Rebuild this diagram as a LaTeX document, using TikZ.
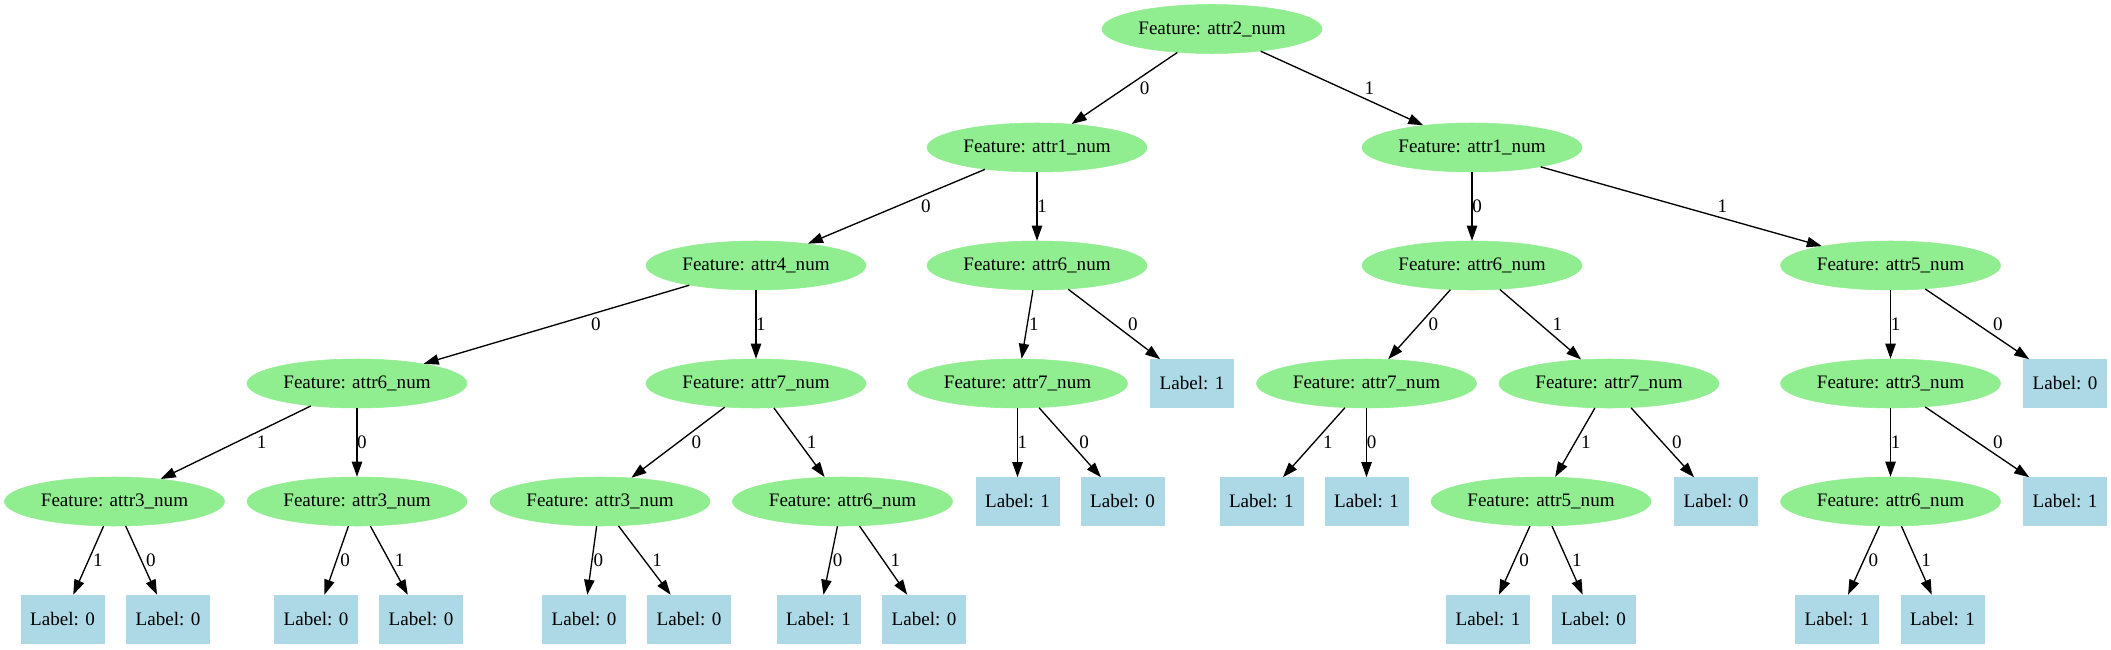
\documentclass[tikz,border=0pt]{standalone}
\usepackage{fontspec}
\setmainfont{Liberation Serif}
\usetikzlibrary{shapes.geometric,arrows.meta,calc}
\definecolor{featgreen}{HTML}{90EE90}
\definecolor{leafblue}{HTML}{ADD8E6}
\newcommand{\tedge}[3]{%
  \draw[treeedge] (#1) -- (#2);
  \path let \p1=(#1), \p2=(#2), \n1={3.75pt+7.65pt*abs(\x2-\x1)/abs(\y2-\y1)} in
    node[elab, xshift=\n1] at ($(#1)!0.5!(#2)$) {#3};
}
\begin{document}
\begin{tikzpicture}[x=0.75pt,y=-0.75pt,
  every node/.style={font=\fontsize{14.3pt}{17pt}\selectfont},
  feat/.style={ellipse, fill=featgreen, draw=featgreen, minimum width=165pt, minimum height=36.75pt, inner sep=0pt},
  leaf/.style={rectangle, fill=leafblue, draw=leafblue, minimum width=62.25pt, minimum height=36pt, inner sep=0pt},
  treeedge/.style={line width=1pt, -{Triangle[length=11.25pt, width=7.75pt]}},
  elab/.style={inner sep=0pt, anchor=center}]
\fill[white] (0,0) rectangle (2111,649);
\useasboundingbox (0,0) rectangle (2111,649);
% level 0
\node[feat] (root) at (1212,29) {Feature: attr2\_num};
% level 1
\node[feat] (A) at (1037,147.5) {Feature: attr1\_num};
\node[feat] (B) at (1472,147.5) {Feature: attr1\_num};
% level 2
\node[feat] (A0) at (756,265.5) {Feature: attr4\_num};
\node[feat] (A1) at (1037,265.5) {Feature: attr6\_num};
\node[feat] (B0) at (1472,265.5) {Feature: attr6\_num};
\node[feat] (B1) at (1890.5,265.5) {Feature: attr5\_num};
% level 3
\node[feat] (A00) at (357,383.5) {Feature: attr6\_num};
\node[feat] (A01) at (756,383.5) {Feature: attr7\_num};
\node[feat] (A10) at (1017.5,383.5) {Feature: attr7\_num};
\node[leaf] (A11) at (1192,383.5) {Label: 1};
\node[feat] (B00) at (1366.5,383.5) {Feature: attr7\_num};
\node[feat] (B01) at (1609,383.5) {Feature: attr7\_num};
\node[feat] (B10) at (1890.5,383.5) {Feature: attr3\_num};
\node[leaf] (B11) at (2065,383.5) {Label: 0};
% level 4
\node[feat] (A000) at (114.5,501.5) {Feature: attr3\_num};
\node[feat] (A001) at (357,501.5) {Feature: attr3\_num};
\node[feat] (A010) at (600,501.5) {Feature: attr3\_num};
\node[feat] (A011) at (842.5,501.5) {Feature: attr6\_num};
\node[leaf] (A100) at (1017.5,501.5) {Label: 1};
\node[leaf] (A101) at (1122.5,501.5) {Label: 0};
\node[leaf] (B000) at (1261.3,501.5) {Label: 1};
\node[leaf] (B001) at (1366.5,501.5) {Label: 1};
\node[feat] (B010) at (1541,501.5) {Feature: attr5\_num};
\node[leaf] (B011) at (1716,501.5) {Label: 0};
\node[feat] (B100) at (1890.5,501.5) {Feature: attr6\_num};
\node[leaf] (B101) at (2065,501.5) {Label: 1};
% level 5
\node[leaf] (a1) at (62.5,619) {Label: 0};
\node[leaf] (a2) at (168,619) {Label: 0};
\node[leaf] (a3) at (316,619) {Label: 0};
\node[leaf] (a4) at (421,619) {Label: 0};
\node[leaf] (a5) at (584,619) {Label: 0};
\node[leaf] (a6) at (689,619) {Label: 0};
\node[leaf] (a7) at (818.5,619) {Label: 1};
\node[leaf] (a8) at (924,619) {Label: 0};
\node[leaf] (b1) at (1488,619) {Label: 1};
\node[leaf] (b2) at (1593.5,619) {Label: 0};
\node[leaf] (b3) at (1837,619) {Label: 1};
\node[leaf] (b4) at (1942.5,619) {Label: 1};
% edges
\tedge{root}{A}{0}
\tedge{root}{B}{1}
\tedge{A}{A0}{0}
\tedge{A}{A1}{1}
\tedge{B}{B0}{0}
\tedge{B}{B1}{1}
\tedge{A0}{A00}{0}
\tedge{A0}{A01}{1}
\tedge{A1}{A10}{1}
\tedge{A1}{A11}{0}
\tedge{B0}{B00}{0}
\tedge{B0}{B01}{1}
\tedge{B1}{B10}{1}
\tedge{B1}{B11}{0}
\tedge{A00}{A000}{1}
\tedge{A00}{A001}{0}
\tedge{A01}{A010}{0}
\tedge{A01}{A011}{1}
\tedge{A10}{A100}{1}
\tedge{A10}{A101}{0}
\tedge{B00}{B000}{1}
\tedge{B00}{B001}{0}
\tedge{B01}{B010}{1}
\tedge{B01}{B011}{0}
\tedge{B10}{B100}{1}
\tedge{B10}{B101}{0}
\tedge{A000}{a1}{1}
\tedge{A000}{a2}{0}
\tedge{A001}{a3}{0}
\tedge{A001}{a4}{1}
\tedge{A010}{a5}{0}
\tedge{A010}{a6}{1}
\tedge{A011}{a7}{0}
\tedge{A011}{a8}{1}
\tedge{B010}{b1}{0}
\tedge{B010}{b2}{1}
\tedge{B100}{b3}{0}
\tedge{B100}{b4}{1}
\end{tikzpicture}
\end{document}
